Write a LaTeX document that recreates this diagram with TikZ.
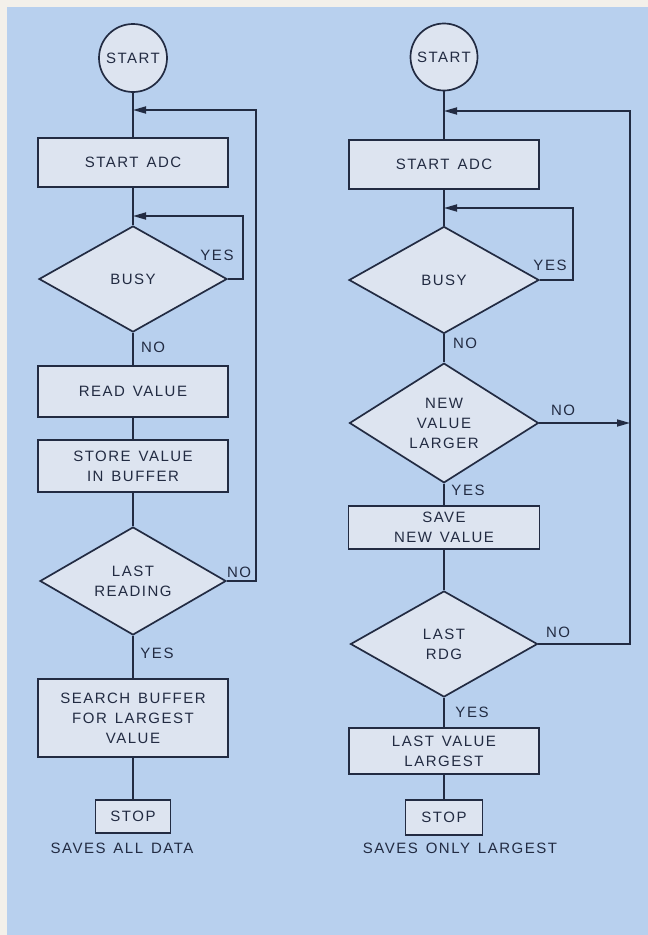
\documentclass[tikz,border=0pt]{standalone}
\usepackage{fontspec}
\setmainfont{Liberation Sans}[LetterSpace=10,WordSpace=1.4]
\usetikzlibrary{shapes.geometric,arrows.meta}
\definecolor{paper}{HTML}{F3F0EA}
\definecolor{panel}{HTML}{B8D0EE}
\definecolor{boxfill}{HTML}{DDE4F0}
\definecolor{ink}{HTML}{222B42}
\begin{document}
\begin{tikzpicture}[x=1pt,y=-1pt,
  every node/.style={font=\fontsize{15}{20}\selectfont, text=ink},
  line/.style={draw=ink, line width=1.7pt},
  arr/.style={line, -{Triangle[length=13pt,width=7pt]}},
  procbox/.style={rectangle, draw=ink, line width=1.7pt, fill=boxfill, inner sep=0pt, align=center},
  decide/.style={diamond, draw=ink, line width=1.7pt, fill=boxfill, inner sep=0pt, align=center},
  termcirc/.style={circle, draw=ink, line width=1.7pt, fill=boxfill, inner sep=0pt},
  lbl/.style={inner sep=0pt}]
\useasboundingbox (0,0) rectangle (648,935);
\fill[paper] (0,0) rectangle (648,935);
\fill[panel] (7,7) rectangle (648,935);

% ---------- left chart ----------
\node[termcirc, minimum size=68pt] (startL) at (133,58) {START};
\node[procbox, minimum width=190pt, minimum height=49pt] (adcL) at (133,162.5) {START ADC};
\node[decide, minimum width=188pt, minimum height=106pt] (busyL) at (133,279) {BUSY};
\node[procbox, minimum width=190pt, minimum height=51pt] (readL) at (133,391.5) {READ VALUE};
\node[procbox, minimum width=190pt, minimum height=52pt] (storeL) at (133,466) {STORE VALUE\\IN BUFFER};
\node[decide, minimum width=186pt, minimum height=104pt] (lastL) at (133,581) {LAST\\READING};
\node[procbox, minimum width=190pt, minimum height=78pt] (searchL) at (133,718) {SEARCH BUFFER\\FOR LARGEST\\VALUE};
\node[procbox, minimum width=75pt, minimum height=33pt] (stopL) at (133,816.5) {STOP};
\node[lbl] (capL) at (122,848) {SAVES ALL DATA};

\coordinate (jL1) at (133,110);
\coordinate (cL1) at (256,110);
\coordinate (jL2) at (133,216);
\coordinate (cL2) at (243,216);

\draw[line] (startL) -- (adcL);
\draw[line] (adcL) -- (busyL);
\draw[line] (busyL) -- (readL);
\draw[line] (readL) -- (storeL);
\draw[line] (storeL) -- (lastL);
\draw[line] (lastL) -- (searchL);
\draw[line] (searchL) -- (stopL);
\draw[arr] (busyL.east) -| (cL2) -- (jL2);
\draw[arr] (lastL.east) -| (cL1) -- (jL1);

\node[lbl] (yesL1) at (217,255) {YES};
\node[lbl] (noL1) at (153,347) {NO};
\node[lbl] (noL2) at (239,572) {NO};
\node[lbl] (yesL2) at (157,653) {YES};

% ---------- right chart ----------
\node[termcirc, minimum size=67pt] (startR) at (444,57) {START};
\node[procbox, minimum width=190pt, minimum height=49pt] (adcR) at (444,164.5) {START ADC};
\node[decide, minimum width=190pt, minimum height=107pt] (busyR) at (444,280) {BUSY};
\node[decide, minimum width=189pt, minimum height=108pt] (newR) at (444,423) {NEW\\VALUE\\LARGER};
\node[procbox, minimum width=191pt, minimum height=43pt] (saveR) at (444,527.5) {SAVE\\NEW VALUE};
\node[decide, minimum width=187pt, minimum height=106pt] (lastR) at (444,644) {LAST\\RDG};
\node[procbox, minimum width=190pt, minimum height=46pt] (lastvR) at (444,751) {LAST VALUE\\LARGEST};
\node[procbox, minimum width=77pt, minimum height=35pt] (stopR) at (444,817.5) {STOP};
\node[lbl] (capR) at (460,848) {SAVES ONLY LARGEST};

\coordinate (jR1) at (444,111);
\coordinate (cR1) at (630,111);
\coordinate (jR2) at (444,208);
\coordinate (cR2) at (573,208);
\coordinate (mR) at (630,423);

\draw[line] (startR) -- (adcR);
\draw[line] (adcR) -- (busyR);
\draw[line] (busyR) -- (newR);
\draw[line] (newR) -- (saveR);
\draw[line] (saveR) -- (lastR);
\draw[line] (lastR) -- (lastvR);
\draw[line] (lastvR) -- (stopR);
\draw[arr] (busyR.east) -| (cR2) -- (jR2);
\draw[arr] (lastR.east) -| (cR1) -- (jR1);
\draw[arr] (newR.east) -- (mR);

\node[lbl] (yesR1) at (550,265) {YES};
\node[lbl] (noR1) at (465,343) {NO};
\node[lbl] (noR2) at (563,410) {NO};
\node[lbl] (yesR2) at (468,490) {YES};
\node[lbl] (noR3) at (558,632) {NO};
\node[lbl] (yesR3) at (472,712) {YES};
\end{tikzpicture}
\end{document}
